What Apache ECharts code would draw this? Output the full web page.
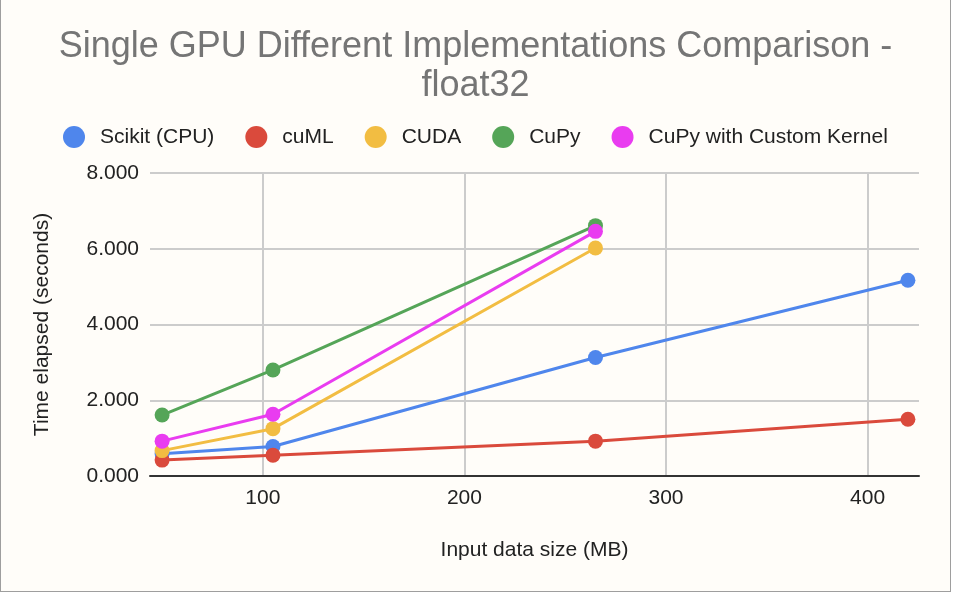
<!DOCTYPE html>
<html>
<head>
<meta charset="utf-8">
<script src="https://cdn.jsdelivr.net/npm/echarts@6/dist/echarts.min.js"></script>
<style>
  html, body { margin: 0; padding: 0; background: #ffffff; }
  #chart { position: absolute; left: 0; top: 0; width: 951px; height: 592px; background: #fffdf9;
           border-left: 1px solid #9e9e9e; border-right: 1px solid #9e9e9e; border-bottom: 1px solid #9e9e9e; box-sizing: border-box; }
</style>
</head>
<body>
<div id="chart"></div>
<script>
const titleText = "Single GPU Different Implementations Comparison -\nfloat32";
const xAxisName = "Input data size (MB)";
const yAxisName = "Time elapsed (seconds)";
const seriesNames = ["Scikit (CPU)", "cuML", "CUDA", "CuPy", "CuPy with Custom Kernel"];
const seriesColors = ["#4f86ec", "#da4a3c", "#f2bd42", "#55a558", "#e93cf0"];
const xScikit = [50, 105, 265, 420];
const yScikit = [0.59, 0.78, 3.13, 5.17];
const xCuml = [50, 105, 265, 420];
const yCuml = [0.42, 0.55, 0.92, 1.50];
const xCuda = [50, 105, 265];
const yCuda = [0.67, 1.25, 6.02];
const xCupy = [50, 105, 265];
const yCupy = [1.61, 2.80, 6.61];
const xCustom = [50, 105, 265];
const yCustom = [0.92, 1.63, 6.46];

const xs = [xScikit, xCuml, xCuda, xCupy, xCustom];
const ys = [yScikit, yCuml, yCuda, yCupy, yCustom];

const chart = echarts.init(document.getElementById('chart'), null, {renderer: 'canvas'});
const FONT = "'Liberation Sans', Arial, sans-serif";

const series = seriesNames.map((name, i) => ({
  name: name,
  type: 'line',
  data: xs[i].map((x, j) => [x, ys[i][j]]),
  symbol: 'circle',
  symbolSize: 15,
  lineStyle: { width: 3, color: seriesColors[i] },
  itemStyle: { color: seriesColors[i] },
  emphasis: { disabled: true },
  animation: false,
  z: 2 + i
}));

chart.setOption({
  animation: false,
  backgroundColor: 'transparent',
  color: seriesColors,
  title: {
    text: titleText,
    left: 'center',
    top: 23,
    textStyle: { fontFamily: FONT, fontSize: 36, fontWeight: 'normal', color: '#757575', lineHeight: 39 }
  },
  legend: {
    top: 121,
    left: 57,
    icon: 'circle',
    itemWidth: 22,
    itemHeight: 22,
    itemGap: 31,
    textStyle: { fontFamily: FONT, fontSize: 21, color: '#222222', padding: [0, 0, 0, 10] },
    data: seriesNames
  },
  grid: { left: 149, right: 31, top: 173, bottom: 115, containLabel: false },
  xAxis: {
    type: 'value',
    min: 44,
    max: 425.5,
    splitNumber: 4,
    name: xAxisName,
    nameLocation: 'middle',
    nameGap: 64,
    nameTextStyle: { fontFamily: FONT, fontSize: 21, color: '#222222' },
    axisLine: { show: true, lineStyle: { color: '#333333', width: 2 } },
    axisTick: { show: false },
    axisLabel: { fontFamily: FONT, fontSize: 21, color: '#222222', margin: 12, showMinLabel: false, showMaxLabel: false },
    splitLine: { show: true, showMinLine: false, showMaxLine: false, lineStyle: { color: '#cccccc', width: 2 } }
  },
  yAxis: {
    type: 'value',
    min: 0,
    max: 8,
    interval: 2,
    name: yAxisName,
    nameLocation: 'middle',
    nameGap: 97,
    nameTextStyle: { fontFamily: FONT, fontSize: 21, color: '#222222' },
    axisLine: { show: false },
    axisTick: { show: false },
    axisLabel: { fontFamily: FONT, fontSize: 21, color: '#222222', margin: 11, formatter: v => v.toFixed(3) },
    splitLine: { show: true, lineStyle: { color: '#cccccc', width: 2 } }
  },
  series: series
});
</script>
</body>
</html>
